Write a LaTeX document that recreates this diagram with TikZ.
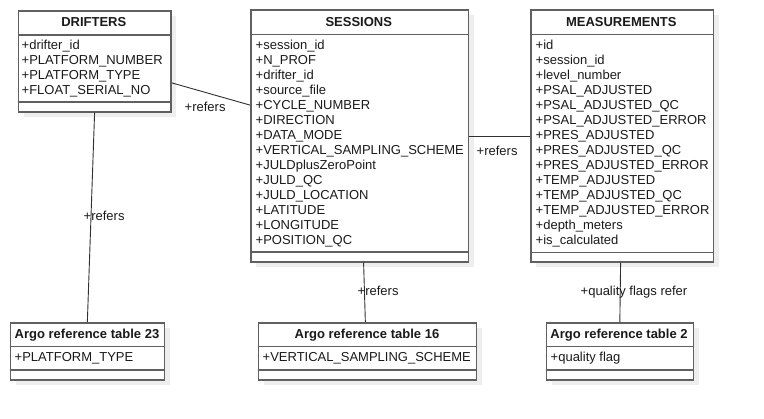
\documentclass[tikz,border=0pt]{standalone}
\usepackage{fontspec}
\setmainfont{Liberation Sans}
\definecolor{boxgrey}{HTML}{606060}
\definecolor{shadowgrey}{HTML}{EEEEEE}
\definecolor{conncol}{HTML}{303030}
\definecolor{txt}{HTML}{1A1A1A}
\begin{document}
\begin{tikzpicture}[x=1pt,y=-1pt,
  box/.style={draw=boxgrey, line width=1.7pt, fill=white, rectangle, inner sep=0pt, anchor=north west},
  sep/.style={draw=boxgrey, line width=1.7pt},
  shadowfill/.style={fill=shadowgrey, draw=none},
  hdr/.style={font=\fontsize{13}{15}\selectfont\bfseries, text=txt, inner sep=0pt, anchor=base},
  attr/.style={font=\fontsize{13}{15}\selectfont, text=txt, inner sep=0pt, anchor=base west},
  conn/.style={draw=conncol, line width=0.9pt},
  lbl/.style={font=\fontsize{13}{15}\selectfont, text=txt, inner sep=0pt, anchor=base west}]
\useasboundingbox (0,0) rectangle (764,419);
\fill[white] (0,0) rectangle (764,419);

% shadows
\fill[shadowfill] (23.5,16) rectangle (176,117);
\fill[shadowfill] (256,15.5) rectangle (473.5,267);
\fill[shadowfill] (536,15.5) rectangle (718.5,267);
\fill[shadowfill] (15.5,328) rectangle (169.5,385);
\fill[shadowfill] (263.5,328) rectangle (481.5,385);
\fill[shadowfill] (551.5,328) rectangle (698.5,385);

% connectors (behind boxes)
\node[box, minimum width=152.5pt, minimum height=101pt] (drifters) at (17.5,10) {};
\node[box, minimum width=217.5pt, minimum height=251.5pt] (sessions) at (250,9.5) {};
\node[box, minimum width=182.5pt, minimum height=251.5pt] (measurements) at (530,9.5) {};
\node[box, minimum width=154pt, minimum height=57pt] (a23) at (9.5,322) {};
\node[box, minimum width=218pt, minimum height=57pt] (a16) at (257.5,322) {};
\node[box, minimum width=147pt, minimum height=57pt] (a2) at (545.5,322) {};

\draw[conn] ([yshift=-21.5pt]drifters.east) -- ([yshift=31pt]sessions.west);
\draw[conn] (sessions.east) -- (measurements.west);
\draw[conn] (drifters.south) -- (a23.north);
\draw[conn] ([xshift=4pt]sessions.south) -- ([xshift=-2pt]a16.north);
\draw[conn] ([xshift=-1.5pt]measurements.south) -- (a2.north);

% compartment separators
\draw[sep] (17.5,35) -- (170,35);
\draw[sep] (17.5,102) -- (170,102);
\draw[sep] (250,34.5) -- (467.5,34.5);
\draw[sep] (250,252) -- (467.5,252);
\draw[sep] (530,34.5) -- (712.5,34.5);
\draw[sep] (530,252.5) -- (712.5,252.5);
\draw[sep] (9.5,346.5) -- (163.5,346.5);
\draw[sep] (9.5,370) -- (163.5,370);
\draw[sep] (257.5,346.5) -- (475.5,346.5);
\draw[sep] (257.5,370) -- (475.5,370);
\draw[sep] (545.5,346.5) -- (692.5,346.5);
\draw[sep] (545.5,370) -- (692.5,370);

% headers
\node[hdr] (hdrifters) at (93.75,26.5) {DRIFTERS};
\node[hdr] (hsessions) at (358.75,26.5) {SESSIONS};
\node[hdr] (hmeas) at (621.25,26.5) {MEASUREMENTS};
\node[hdr] (ha23) at (87,339) {Argo reference table 23};
\node[hdr] (ha16) at (367,339) {Argo reference table 16};
\node[hdr] (ha2) at (619,339) {Argo reference table 2};

% attributes
\foreach \t [count=\i from 0] in {+drifter\_id,+PLATFORM\_NUMBER,+PLATFORM\_TYPE,+FLOAT\_SERIAL\_NO}
  \node[attr] (d\i) at (21.5,49.7+15*\i) {\t};
\foreach \t [count=\i from 0] in {+session\_id,+N\_PROF,+drifter\_id,+source\_file,+CYCLE\_NUMBER,+DIRECTION,+DATA\_MODE,+VERTICAL\_SAMPLING\_SCHEME,+JULDplusZeroPoint,+JULD\_QC,+JULD\_LOCATION,+LATITUDE,+LONGITUDE,+POSITION\_QC}
  \node[attr] (s\i) at (255.5,49.7+15*\i) {\t};
\foreach \t [count=\i from 0] in {+id,+session\_id,+level\_number,+PSAL\_ADJUSTED,+PSAL\_ADJUSTED\_QC,+PSAL\_ADJUSTED\_ERROR,+PRES\_ADJUSTED,+PRES\_ADJUSTED\_QC,+PRES\_ADJUSTED\_ERROR,+TEMP\_ADJUSTED,+TEMP\_ADJUSTED\_QC,+TEMP\_ADJUSTED\_ERROR,+depth\_meters,+is\_calculated}
  \node[attr] (m\i) at (535.5,49.7+15*\i) {\t};
\node[attr] (t23) at (14.5,361.4) {+PLATFORM\_TYPE};
\node[attr] (t16) at (262.5,361.4) {+VERTICAL\_SAMPLING\_SCHEME};
\node[attr] (t2) at (550.5,361.4) {+quality flag};

% connector labels
\node[lbl] (l1) at (184.5,111.7) {+refers};
\node[lbl] (l2) at (476.5,155.4) {+refers};
\node[lbl] (l3) at (83.5,220.4) {+refers};
\node[lbl] (l4) at (357.5,295.4) {+refers};
\node[lbl] (l5) at (580.5,295.4) {+quality flags refer};
\end{tikzpicture}
\end{document}
